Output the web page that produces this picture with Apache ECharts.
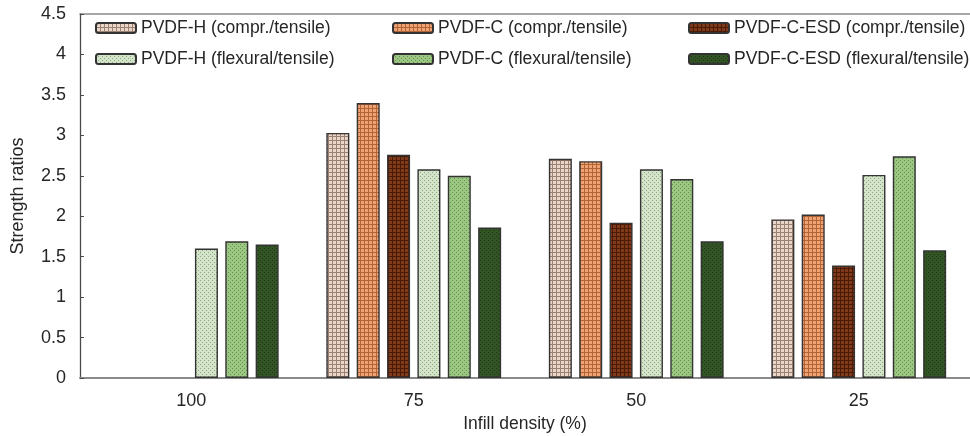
<!DOCTYPE html>
<html>
<head>
<meta charset="utf-8">
<script src="https://cdn.jsdelivr.net/npm/echarts@6/dist/echarts.min.js"></script>
<style>
  html, body { margin: 0; padding: 0; background: #fff; }
  #chart { width: 970px; height: 436px; }
</style>
</head>
<body>
<div id="chart"></div>
<script>
// Strength ratios by infill density
const categories = ['100', '75', '50', '25'];
const seriesNames = [
  'PVDF-H (compr./tensile)',
  'PVDF-C (compr./tensile)',
  'PVDF-C-ESD (compr./tensile)',
  'PVDF-H (flexural/tensile)',
  'PVDF-C (flexural/tensile)',
  'PVDF-C-ESD (flexural/tensile)'
];
const pvdfHCompr   = [null, 3.03, 2.71, 1.96];
const pvdfCCompr   = [null, 3.40, 2.68, 2.02];
const pvdfEsdCompr = [null, 2.76, 1.92, 1.39];
const pvdfHFlex    = [1.60, 2.58, 2.58, 2.51];
const pvdfCFlex    = [1.69, 2.50, 2.46, 2.74];
const pvdfEsdFlex  = [1.65, 1.86, 1.69, 1.58];
const yTicks = { min: 0, max: 4.5, interval: 0.5 };

// fine grid hatch used for the compression ratios
function gridPattern(base, line) {
  const c = document.createElement('canvas');
  c.width = 4; c.height = 4;
  const g = c.getContext('2d');
  g.fillStyle = base; g.fillRect(0, 0, 4, 4);
  g.fillStyle = line;
  g.fillRect(0, 0, 1, 4);
  g.fillRect(0, 0, 4, 1);
  return { image: c, repeat: 'repeat' };
}
// stippled texture used for the flexural ratios
function dotPattern(base, dot) {
  const c = document.createElement('canvas');
  c.width = 4; c.height = 4;
  const g = c.getContext('2d');
  g.fillStyle = base; g.fillRect(0, 0, 4, 4);
  g.fillStyle = dot;
  g.fillRect(0, 0, 1, 1);
  g.fillRect(2, 2, 1, 1);
  return { image: c, repeat: 'repeat' };
}

const fills = [
  gridPattern('#e8d6ca', '#9c8070'),
  gridPattern('#f0a272', '#b0643a'),
  gridPattern('#80391a', '#4a1c06'),
  dotPattern('#d4e4c8', '#8ea486'),
  dotPattern('#9cc782', '#66904f'),
  dotPattern('#335526', '#1c3614')
];
const values = [pvdfHCompr, pvdfCCompr, pvdfEsdCompr, pvdfHFlex, pvdfCFlex, pvdfEsdFlex];

const series = seriesNames.map((name, i) => ({
  name: name,
  type: 'bar',
  barWidth: 23,
  barGap: '32%',
  data: values[i],
  itemStyle: { color: fills[i], borderColor: '#333333', borderWidth: 1.4 }
}));

const font = 'Liberation Sans';
const ink = '#262626';
const txt = { fontFamily: font, fontSize: 18, color: ink };
const legendBase = {
  orient: 'vertical',
  top: 18,
  padding: 0,
  itemWidth: 40,
  itemHeight: 10,
  itemGap: 11,
  textStyle: { fontFamily: font, fontSize: 17.5, color: ink, lineHeight: 20 },
  selectedMode: false
};

const chart = echarts.init(document.getElementById('chart'));
chart.setOption({
  animation: false,
  grid: { left: 80, right: 0, top: 14, bottom: 58, containLabel: false, outerBoundsMode: 'none' },
  legend: [
    Object.assign({}, legendBase, { left: 95, data: [seriesNames[0], seriesNames[3]] }),
    Object.assign({}, legendBase, { left: 392, data: [seriesNames[1], seriesNames[4]] }),
    Object.assign({}, legendBase, { left: 688, data: [seriesNames[2], seriesNames[5]] })
  ],
  xAxis: [
    {
      type: 'category',
      data: categories,
      name: 'Infill density (%)',
      nameLocation: 'middle',
      nameGap: 37,
      nameTextStyle: { fontFamily: font, fontSize: 17.5, color: ink },
      axisLine: { lineStyle: { color: '#8a8a8a', width: 2 } },
      axisTick: { show: false },
      axisLabel: Object.assign({}, txt, { margin: 14 })
    },
    {
      type: 'category',
      position: 'top',
      data: categories,
      axisLine: { lineStyle: { color: '#8a8a8a', width: 1.5 } },
      axisTick: { show: false },
      axisLabel: { show: false }
    }
  ],
  yAxis: {
    type: 'value',
    min: yTicks.min,
    max: yTicks.max,
    interval: yTicks.interval,
    name: 'Strength ratios',
    nameLocation: 'middle',
    nameGap: 53,
    nameTextStyle: txt,
    axisLine: { show: true, lineStyle: { color: '#4a4a4a', width: 1.3 } },
    axisTick: { show: true, inside: true, length: 4, lineStyle: { color: '#4a4a4a' } },
    axisLabel: Object.assign({}, txt, { margin: 14 }),
    splitLine: { show: false }
  },
  series: series
});
</script>
</body>
</html>
